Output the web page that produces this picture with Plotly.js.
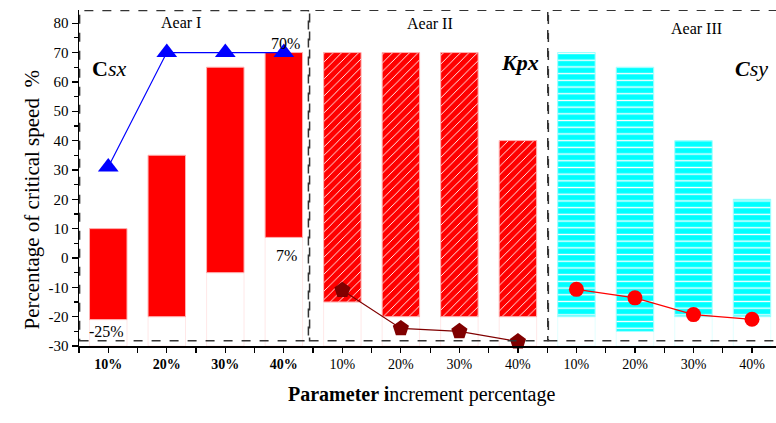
<!DOCTYPE html>
<html><head><meta charset="utf-8">
<script src="https://cdn.plot.ly/plotly-3.0.1.min.js"></script>
<style>html,body{margin:0;padding:0;background:#fff}#c{width:776px;height:423px}</style>
</head><body><div id="c"></div>
<script>
const tickLabels = ['<b>10%</b>','<b>20%</b>','<b>30%</b>','<b>40%</b>','10%','20%','30%','40%','10%','20%','30%','40%'];
const xCsx = [0,1,2,3], xKpx = [4,5,6,7], xCsy = [8,9,10,11];
const csxTop = [10,35,65,70], csxBase = [-21,-20,-5,7];
const kpxTop = [70,70,70,40], kpxBase = [-15,-20,-20,-20];
const csyTop = [70,65,40,20], csyBase = [-20,-25,-20,-20];
const csxLine = [31,70,70,70];
const kpxLine = [-11,-24,-25,-28.5];
const csyLine = [-10.7,-13.6,-19.3,-20.9];
const yMin = -30;

const diff = (t,b)=>t.map((v,i)=>v-b[i]);
const ghost = (x,b,col)=>({type:'bar',x:x,y:b.map(v=>v-yMin),base:x.map(()=>yMin),width:0.64,
  marker:{color:'rgba(0,0,0,0)',line:{color:col,width:0.6}},hoverinfo:'skip',showlegend:false});
const traces = [
  ghost(xCsx,csxBase,'rgba(255,170,170,0.45)'),
  ghost(xKpx,kpxBase,'rgba(255,170,170,0.45)'),
  ghost(xCsy,csyBase,'rgba(150,255,255,0.45)'),
  {type:'bar',x:xCsx,y:diff(csxTop,csxBase),base:csxBase,width:0.64,
   marker:{color:'#ff0000',line:{color:'#ffb0b0',width:1}},showlegend:false},
  {type:'bar',x:xKpx,y:diff(kpxTop,kpxBase),base:kpxBase,width:0.64,
   marker:{color:'#ff0000',line:{color:'#ffb0b0',width:1},
     pattern:{shape:'/',fgcolor:'#ffffff',bgcolor:'#ff0000',size:6,solidity:0.15,fillmode:'replace'}},showlegend:false},
  {type:'bar',x:xCsy,y:diff(csyTop,csyBase),base:csyBase,width:0.64,
   marker:{color:'#00ffff',line:{color:'#a0ffff',width:1},
     pattern:{shape:'-',fgcolor:'#ffffff',bgcolor:'#00ffff',size:6.7,solidity:0.2,fillmode:'replace'}},showlegend:false},
  {type:'scatter',mode:'lines+markers',x:xCsx,y:csxLine,line:{color:'#0000ff',width:1.2},
   marker:{symbol:'triangle-up',size:18,color:'#0000ff'},showlegend:false},
  {type:'scatter',mode:'lines+markers',x:xKpx,y:kpxLine,line:{color:'#800000',width:1.2},
   marker:{symbol:'pentagon',size:17,color:'#800000'},showlegend:false,cliponaxis:false},
  {type:'scatter',mode:'lines+markers',x:xCsy,y:csyLine,line:{color:'#ff0000',width:1.2},
   marker:{symbol:'circle',size:15,color:'#ff0000'},showlegend:false}
];
const F = 'Liberation Serif';
const dash = {color:'#333',width:1.5,dash:'dash'};
const yv = [-30,-20,-10,0,10,20,30,40,50,60,70,80];
const layout = {
  width:776,height:423,margin:{l:79,r:0,t:10,b:77},
  paper_bgcolor:'#fff',plot_bgcolor:'#fff',barmode:'overlay',
  font:{family:F,color:'#000'},
  xaxis:{range:[-0.5,11.41],tickmode:'array',tickvals:[0,1,2,3,4,5,6,7,8,9,10,11],ticktext:tickLabels,
    ticks:'outside',ticklen:5,tickwidth:1.2,tickcolor:'#000',showline:true,linecolor:'#000',linewidth:1.5,
    showgrid:false,zeroline:false,tickfont:{family:F,size:14,color:'#000'},
    minor:{tick0:-0.5,dtick:1,ticks:'outside',ticklen:5,tickwidth:1.2,tickcolor:'#000',showgrid:false}},
  yaxis:{range:[-30,84.5],tickmode:'array',tickvals:yv,ticktext:yv.map(String),
    ticks:'outside',ticklen:6,tickwidth:1.2,tickcolor:'#000',showline:true,linecolor:'#000',linewidth:1.5,
    showgrid:false,zeroline:false,tickfont:{family:F,size:15,color:'#000'},
    minor:{tick0:-25,dtick:10,ticks:'outside',ticklen:3.5,tickwidth:1.2,tickcolor:'#000',showgrid:false}},
  shapes:[
    {type:'rect',xref:'x',yref:'y',x0:-0.49,x1:3.42,y0:-28.2,y1:84.3,line:dash},
    {type:'rect',xref:'x',yref:'y',x0:3.44,x1:7.51,y0:-28.2,y1:84.4,line:dash},
    {type:'rect',xref:'x',yref:'y',x0:7.52,x1:12.5,y0:-28.2,y1:84.4,line:dash}
  ],
  annotations:[
    {xref:'x',yref:'y',x:1.25,y:80.2,text:'Aear I',showarrow:false,font:{family:F,size:16}},
    {xref:'x',yref:'y',x:5.5,y:79.9,text:'Aear II',showarrow:false,font:{family:F,size:16}},
    {xref:'x',yref:'y',x:10.05,y:78.2,text:'Aear III',showarrow:false,font:{family:F,size:16}},
    {xref:'x',yref:'y',x:0.02,y:64.7,text:'<b>C</b><i>sx</i>',showarrow:false,font:{family:F,size:22}},
    {xref:'x',yref:'y',x:7.03,y:66.7,text:'<b><i>Kpx</i></b>',showarrow:false,font:{family:F,size:22}},
    {xref:'x',yref:'y',x:10.99,y:64.7,text:'<b><i>C</i></b><i>sy</i>',showarrow:false,font:{family:F,size:22}},
    {xref:'x',yref:'y',x:3.02,y:73.2,text:'70%',showarrow:false,font:{family:F,size:16}},
    {xref:'x',yref:'y',x:3.05,y:0.7,text:'7%',showarrow:false,font:{family:F,size:16}},
    {xref:'x',yref:'y',x:-0.03,y:-25.2,text:'-25%',showarrow:false,font:{family:F,size:16}},
    {xref:'paper',yref:'paper',x:0.492,y:-0.186,text:'<b>Parameter i</b>ncrement percentage',showarrow:false,font:{family:F,size:20}},
    {xref:'paper',yref:'paper',x:-0.087,y:0.434,text:'Percentage of critical speed&nbsp; %',textangle:-90,showarrow:false,font:{family:F,size:21}}
  ]
};
Plotly.newPlot('c',traces,layout,{displayModeBar:false,staticPlot:true});
</script></body></html>
